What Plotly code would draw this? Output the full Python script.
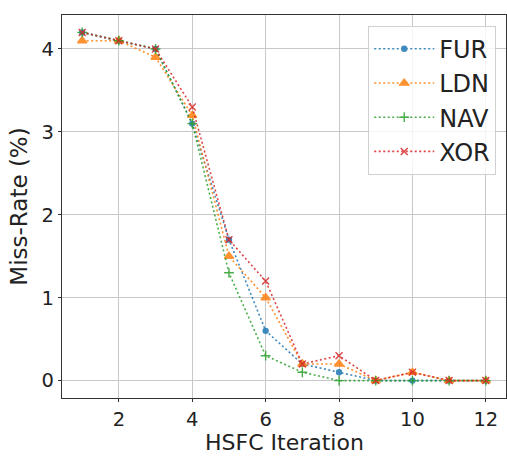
import plotly.graph_objects as go

iterations = [1, 2, 3, 4, 5, 6, 7, 8, 9, 10, 11, 12]
fur = [4.2, 4.1, 4.0, 3.1, 1.7, 0.6, 0.2, 0.1, 0.0, 0.0, 0.0, 0.0]
ldn = [4.1, 4.1, 3.9, 3.2, 1.5, 1.0, 0.2, 0.2, 0.0, 0.1, 0.0, 0.0]
nav = [4.2, 4.1, 4.0, 3.1, 1.3, 0.3, 0.1, 0.0, 0.0, 0.0, 0.0, 0.0]
xor = [4.2, 4.1, 4.0, 3.3, 1.7, 1.2, 0.2, 0.3, 0.0, 0.1, 0.0, 0.0]

series = [
    ("FUR", fur, "#1f77b4", "circle", 5),
    ("LDN", ldn, "#ff7f0e", "triangle-up", 8),
    ("NAV", nav, "#2ca02c", "cross-thin", 7),
    ("XOR", xor, "#d62728", "x-thin", 7),
]

fig = go.Figure()
for name, vals, color, sym, size in series:
    fig.add_trace(go.Scatter(
        x=iterations, y=vals, name=name, mode="lines+markers",
        line=dict(color=color, width=1.6, dash="2px,2.5px"),
        marker=dict(symbol=sym, size=size, color=color,
                    line=dict(color=color, width=1.4)),
        opacity=0.85,
    ))

axis_common = dict(
    showline=True, linecolor="#333333", linewidth=1.2, mirror=True,
    showgrid=True, gridcolor="#c8c8c8", gridwidth=1,
    ticks="outside", ticklen=3, tickcolor="#333333",
    tickfont=dict(size=19.5, color="#222222", family="DejaVu Sans"),
    zeroline=False, automargin=False,
)

plot_h = 457 - 15 - 59

fig.update_layout(
    width=507, height=457,
    margin=dict(l=62, r=1, t=15, b=59),
    plot_bgcolor="white", paper_bgcolor="white",
    font=dict(family="DejaVu Sans", color="#222222"),
    xaxis=dict(range=[0.45, 12.55], tickvals=[2, 4, 6, 8, 10, 12],
               **axis_common),
    yaxis=dict(range=[-0.21, 4.41], tickvals=[0, 1, 2, 3, 4],
               title=dict(text="Miss-Rate (%)", font=dict(size=23), standoff=7),
               **axis_common),
    legend=dict(x=0.978, y=0.972, xanchor="right", yanchor="top",
                font=dict(size=24, family="DejaVu Sans", color="#222222"),
                bgcolor="rgba(255,255,255,0.8)", bordercolor="#d0d0d0",
                borderwidth=1, itemwidth=60, tracegroupgap=0),
    annotations=[dict(
        text="HSFC Iteration", xref="paper", yref="paper",
        x=0.5, y=-58 / plot_h, xanchor="center", yanchor="bottom",
        showarrow=False, borderpad=0, font=dict(size=22, color="#222222"),
    )],
)

fig.write_html("out.html")
